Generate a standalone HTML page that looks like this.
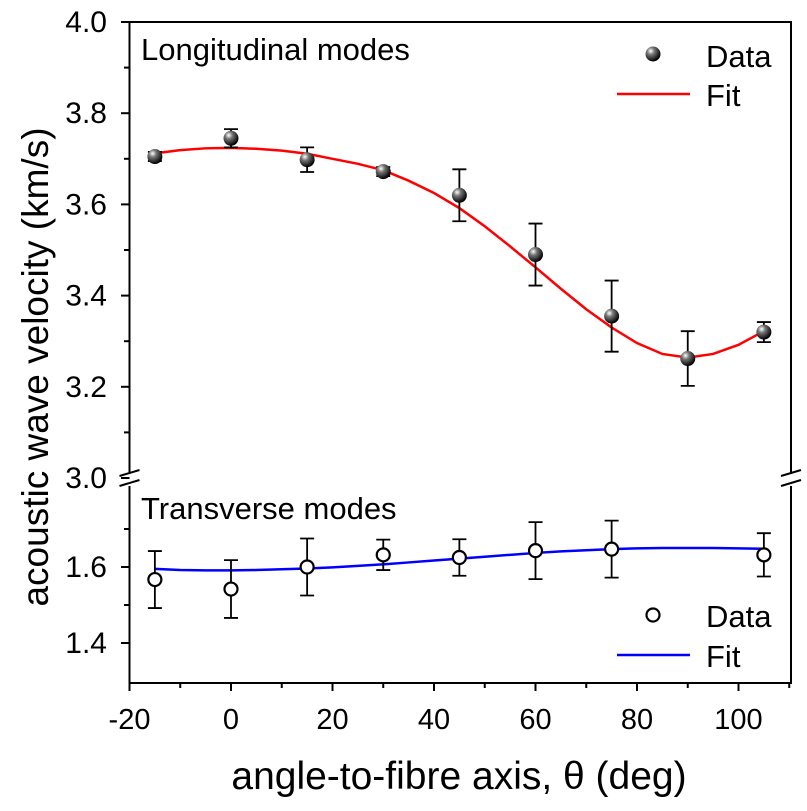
<!DOCTYPE html>
<html><head><meta charset="utf-8"><style>
body{margin:0;background:#fff}
text{font-family:"Liberation Sans",Arial,sans-serif;fill:#000}
</style></head><body>
<svg id="chart" width="807" height="806" xmlns="http://www.w3.org/2000/svg">
<defs><radialGradient id="ball" cx="35%" cy="30%" r="70%"><stop offset="0" stop-color="#fff"/><stop offset="0.35" stop-color="#777"/><stop offset="1" stop-color="#000"/></radialGradient></defs>
<g id="g"></g>
</svg>
<script>
const xTicks=[-20,0,20,40,60,80,100];
const upTicks=[3.0,3.2,3.4,3.6,3.8,4.0];
const loTicks=[1.4,1.6];
const angles=[-15,0,15,30,45,60,75,90,105];
const longV=[3.705,3.745,3.698,3.672,3.62,3.49,3.355,3.262,3.32];
const longE=[0.01,0.02,0.027,0.01,0.057,0.068,0.078,0.06,0.022];
const transA=[-15,0,15,30,45,60,75,105];
const transV=[1.567,1.542,1.6,1.632,1.625,1.643,1.647,1.632];
const transE=[0.075,0.076,0.075,0.04,0.048,0.075,0.075,0.057];
const fitA=[-15,-10,-5,0,5,10,15,20,25,30,35,40,45,50,55,60,65,70,75,80,85,90,95,100,105];
const longFit=[3.712,3.719,3.723,3.724,3.722,3.718,3.711,3.700,3.689,3.675,3.652,3.625,3.592,3.552,3.508,3.462,3.415,3.370,3.330,3.296,3.272,3.264,3.272,3.292,3.322];
const transFit=[1.595,1.592,1.591,1.591,1.592,1.594,1.596,1.599,1.603,1.607,1.612,1.617,1.622,1.627,1.632,1.637,1.641,1.644,1.647,1.649,1.650,1.650,1.650,1.649,1.648];
const NS='http://www.w3.org/2000/svg';
const g=document.getElementById('g');
const X=v=>129.5+(v+20)*5.075;
const YU=v=>478-(v-3.0)*456;
const YL=v=>567-(v-1.6)*380;
function mk(t,a,p){const e=document.createElementNS(NS,t);for(const k in a)e.setAttribute(k,a[k]);(p||g).appendChild(e);return e;}
let fr=mk('path',{d:'M129.5,22 H791 V683 H129.5 Z',fill:'none',stroke:'#000','stroke-width':2});


mk('rect',{x:120,y:474,width:20,height:12,fill:'#fff'});
mk('rect',{x:781,y:474,width:20,height:12,fill:'#fff'});
[129.5,791].forEach(bx=>{
 const b=mk('path',{d:`M${bx-10},476 L${bx+10},470 M${bx-10},486 L${bx+10},480`,stroke:'#000','stroke-width':2,fill:'none'});
 
 
});
xTicks.forEach(v=>{
 mk('line',{x1:X(v),x2:X(v),y1:683,y2:691,stroke:'#000','stroke-width':2});
 mk('line',{x1:X(v+10),x2:X(v+10),y1:683,y2:688,stroke:'#000','stroke-width':2});
 const t=mk('text',{x:X(v),y:729,'font-size':29,'text-anchor':'middle'});t.textContent=v;
 
 
});
upTicks.forEach(v=>{
 mk('line',{x1:121,x2:129.5,y1:YU(v),y2:YU(v),stroke:'#000','stroke-width':2});
 if(v<4.0)mk('line',{x1:124,x2:129.5,y1:YU(v+0.1),y2:YU(v+0.1),stroke:'#000','stroke-width':2});
 const t=mk('text',{x:107,y:YU(v)+10,'font-size':30,'text-anchor':'end'});t.textContent=v.toFixed(1);
 
 
});
loTicks.forEach(v=>{
 mk('line',{x1:121,x2:129.5,y1:YL(v),y2:YL(v),stroke:'#000','stroke-width':2});
 mk('line',{x1:124,x2:129.5,y1:YL(v+0.1),y2:YL(v+0.1),stroke:'#000','stroke-width':2});
 const t=mk('text',{x:107,y:YL(v)+10,'font-size':30,'text-anchor':'end'});t.textContent=v.toFixed(1);
 
 
});
let lf=mk('polyline',{points:fitA.map((a,i)=>X(a)+','+YU(longFit[i])).join(' '),fill:'none',stroke:'#f00','stroke-width':2.5});


let tf=mk('polyline',{points:fitA.map((a,i)=>X(a)+','+YL(transFit[i])).join(' '),fill:'none',stroke:'#00f','stroke-width':2.5});


function err(x,y1,y2){mk('path',{d:`M${x},${y1}V${y2}M${x-7},${y1}H${x+7}M${x-7},${y2}H${x+7}`,stroke:'#000','stroke-width':1.8,fill:'none'});}
angles.forEach((a,i)=>{
 err(X(a),YU(longV[i]+longE[i]),YU(longV[i]-longE[i]));
 const c=mk('circle',{cx:X(a),cy:YU(longV[i]),r:7.5,fill:'url(#ball)'});
 
 
});
transA.forEach((a,i)=>{
 err(X(a),YL(transV[i]+transE[i]),YL(transV[i]-transE[i]));
 const c=mk('circle',{cx:X(a),cy:YL(transV[i]),r:6.5,fill:'#fff',stroke:'#000','stroke-width':2.2});
 
 
});
function txt(s,x,y,fs,name,extra){const t=mk('text',Object.assign({x:x,y:y,'font-size':fs},extra||{}));t.textContent=s;
 
 return t;}
txt('Longitudinal modes',141,60,31,'panel-label-longitudinal');
txt('Transverse modes',141,519,31,'panel-label-transverse');
mk('circle',{cx:653,cy:54,r:7.5,fill:'url(#ball)'});
txt('Data',706,67,31,'legend-data-upper');
mk('line',{x1:617,x2:690,y1:94,y2:94,stroke:'#f00','stroke-width':2.5});
txt('Fit',706,106,31,'legend-fit-upper');
mk('circle',{cx:653,cy:615,r:6.5,fill:'#fff',stroke:'#000','stroke-width':2.2});
txt('Data',706,627,31,'legend-data-lower');
mk('line',{x1:617,x2:690,y1:655,y2:655,stroke:'#00f','stroke-width':2.5});
txt('Fit',706,667,31,'legend-fit-lower');
txt('angle-to-fibre axis, θ (deg)',459,789,39,'x-axis-title',{'text-anchor':'middle'});
txt('acoustic wave velocity (km/s)',0,0,37,'y-axis-title',{'text-anchor':'middle',transform:'translate(48,367) rotate(-90)'});
</script>
</body></html>
